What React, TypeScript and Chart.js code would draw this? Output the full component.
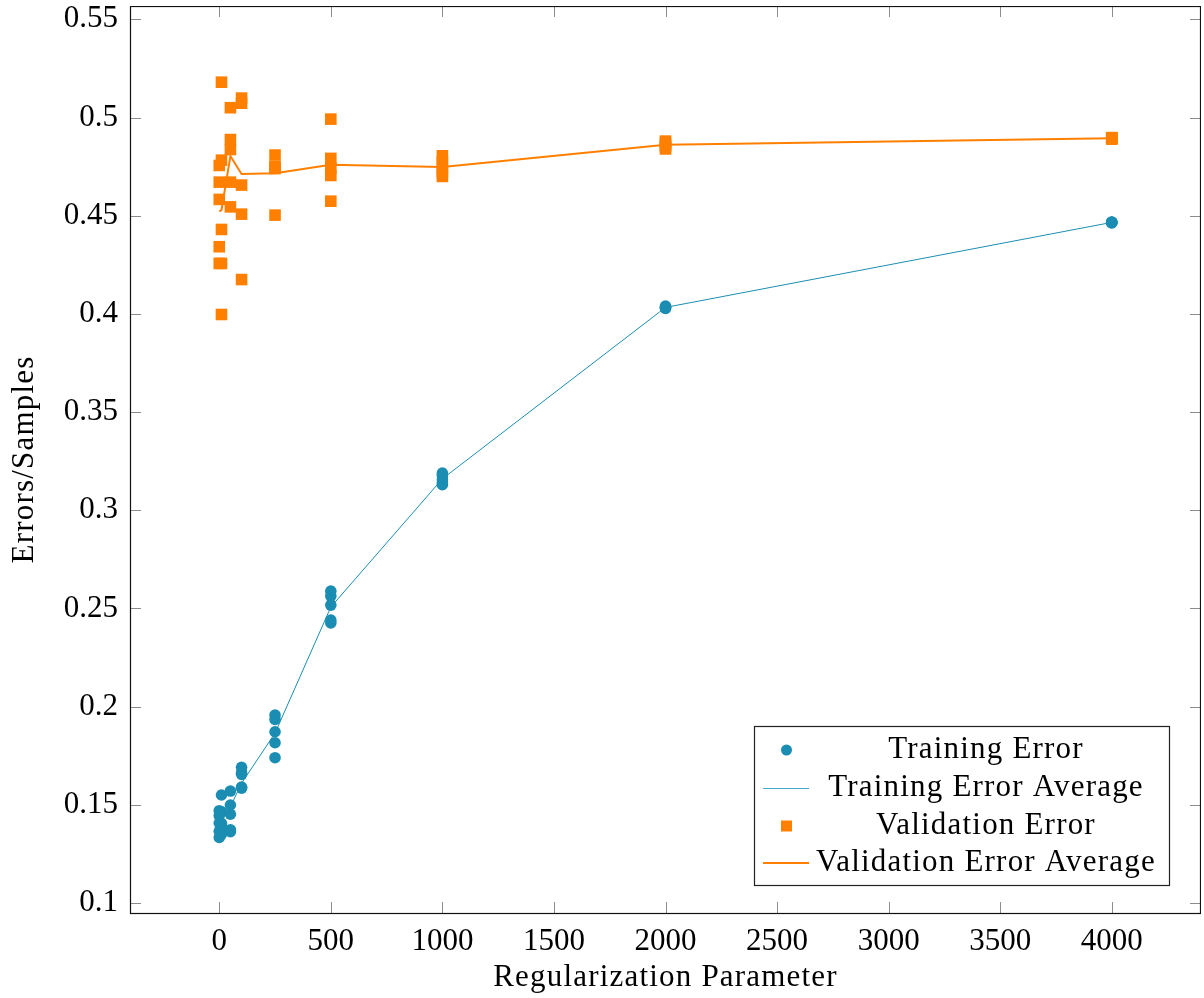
import React, { useEffect, useRef } from 'react';
import { Chart, registerables } from 'chart.js';

Chart.register(...registerables);

// ---- data ----
const lambdas = [0, 10, 50, 100, 250, 500, 1000, 2000, 4000];

const trainingRuns = [
  [0.147, 0.1445, 0.1407, 0.1365, 0.1334],
  [0.155, 0.1465, 0.1405, 0.138, 0.135],
  [0.157, 0.1499, 0.1452, 0.1373, 0.1363],
  [0.1691, 0.1665, 0.1655, 0.159, 0.1585],
  [0.1957, 0.1935, 0.1872, 0.1816, 0.174],
  [0.2588, 0.2563, 0.2517, 0.2441, 0.2426],
  [0.3189, 0.3176, 0.3155, 0.314, 0.313],
  [0.404, 0.4035, 0.4032, 0.403, 0.4028],
  [0.4468, 0.4467, 0.4466, 0.4465, 0.4464],
];

const trainingAverage = [0.1405, 0.144, 0.149, 0.161, 0.1865, 0.2507, 0.316, 0.4033, 0.4466];

const validationRuns = [
  [0.4756, 0.4671, 0.4583, 0.4342, 0.4257],
  [0.518, 0.4783, 0.443, 0.4257, 0.3997],
  [0.505, 0.4888, 0.4837, 0.4671, 0.4545],
  [0.5099, 0.5073, 0.4656, 0.4508, 0.4175],
  [0.4809, 0.475, 0.4745, 0.474, 0.4503],
  [0.4992, 0.4792, 0.4743, 0.4705, 0.4574],
  [0.4805, 0.4775, 0.4745, 0.472, 0.47],
  [0.488, 0.487, 0.486, 0.485, 0.484],
  [0.4898, 0.4896, 0.4894, 0.4892, 0.489],
];

const validationAverage = [0.4522, 0.4529, 0.4804, 0.4712, 0.4716, 0.476, 0.4748, 0.4862, 0.4894];

const xTicks = [0, 500, 1000, 1500, 2000, 2500, 3000, 3500, 4000];
const yTicks = [0.1, 0.15, 0.2, 0.25, 0.3, 0.35, 0.4, 0.45, 0.5, 0.55];

const legendLabels = ['Training Error', 'Training Error Average', 'Validation Error', 'Validation Error Average'];

const xTitle = 'Regularization Parameter';
const yTitle = 'Errors/Samples';

// ---- style ----
const FONT = '"Liberation Serif", "Times New Roman", serif';
const FONT_SIZE = 31;
const TEXT_SPACING = '1.2px';
const TRAIN_COLOR = 'rgb(27,141,178)';
const VAL_COLOR = 'rgb(255,128,0)';
const TICK_LEN = 11;
const CANVAS_TOP = 6;

const framePlugin = {
  id: 'framePlugin',
  afterDatasetsDraw(chart: any) {
    const { ctx, chartArea: a, scales } = chart;
    ctx.save();
    ctx.strokeStyle = 'rgb(140,140,140)';
    ctx.lineWidth = 1;
    ctx.beginPath();
    for (const v of xTicks) {
      const px = Math.round(scales.x.getPixelForValue(v)) + 0.5;
      ctx.moveTo(px, a.bottom);
      ctx.lineTo(px, a.bottom - TICK_LEN);
      ctx.moveTo(px, a.top);
      ctx.lineTo(px, a.top + TICK_LEN);
    }
    for (const v of yTicks) {
      const py = Math.round(scales.y.getPixelForValue(v)) + 0.5;
      ctx.moveTo(a.left, py);
      ctx.lineTo(a.left + TICK_LEN, py);
      ctx.moveTo(a.right, py);
      ctx.lineTo(a.right - TICK_LEN, py);
    }
    ctx.stroke();
    ctx.strokeStyle = '#111';
    ctx.lineWidth = 1.2;
    ctx.strokeRect(a.left + 0.5, a.top + 0.5, a.right - a.left - 1, a.bottom - a.top);
    ctx.restore();
  },
  afterDraw(chart: any) {
    const { ctx, chartArea: a } = chart;
    ctx.save();
    ctx.fillStyle = '#000';
    ctx.font = `${FONT_SIZE}px ${FONT}`;
    (ctx as any).letterSpacing = TEXT_SPACING;
    ctx.textAlign = 'center';
    ctx.textBaseline = 'middle';
    // axis titles
    ctx.fillText(xTitle, (a.left + a.right) / 2, 978 - CANVAS_TOP);
    ctx.save();
    ctx.translate(25, (a.top + a.bottom) / 2);
    ctx.rotate(-Math.PI / 2);
    ctx.fillText(yTitle, 0, 0);
    ctx.restore();

    // legend
    const w = 415;
    const h = 159;
    const right = a.right - 32;
    const bottom = a.bottom - 28;
    const left = right - w;
    const top = bottom - h;
    ctx.fillStyle = '#fff';
    ctx.fillRect(left, top, w, h);
    ctx.strokeStyle = '#222';
    ctx.lineWidth = 1.2;
    ctx.strokeRect(left + 0.5, top + 0.5, w, h);
    const rows = [23, 61, 99, 136].map((d) => top + d);
    const mx = left + 32.5;
    ctx.fillStyle = TRAIN_COLOR;
    ctx.beginPath();
    ctx.arc(mx, rows[0] + 1, 5.5, 0, Math.PI * 2);
    ctx.fill();
    ctx.strokeStyle = 'rgb(70,170,205)';
    ctx.lineWidth = 1;
    ctx.beginPath();
    ctx.moveTo(left + 9, rows[1] + 1.5);
    ctx.lineTo(left + 55, rows[1] + 1.5);
    ctx.stroke();
    ctx.fillStyle = VAL_COLOR;
    ctx.fillRect(mx - 5.5, rows[2] - 4.5, 11, 11);
    ctx.strokeStyle = VAL_COLOR;
    ctx.lineWidth = 2;
    ctx.beginPath();
    ctx.moveTo(left + 9, rows[3] + 1);
    ctx.lineTo(left + 55, rows[3] + 1);
    ctx.stroke();
    ctx.fillStyle = '#000';
    legendLabels.forEach((t, i) => {
      ctx.fillText(t, left + 232, rows[i] + 1);
    });
    ctx.restore();
  },
};

export default function App() {
  const canvasRef = useRef<HTMLCanvasElement | null>(null);

  useEffect(() => {
    document.body.style.margin = '0';
    const canvas = canvasRef.current;
    if (!canvas) return;

    const trainPoints: { x: number; y: number }[] = [];
    const valPoints: { x: number; y: number }[] = [];
    lambdas.forEach((lam, i) => {
      trainingRuns[i].forEach((v) => trainPoints.push({ x: lam, y: v }));
      validationRuns[i].forEach((v) => valPoints.push({ x: lam, y: v }));
    });
    const trainAvg = lambdas.map((lam, i) => ({ x: lam, y: trainingAverage[i] }));
    const valAvg = lambdas.map((lam, i) => ({ x: lam, y: validationAverage[i] }));

    const chart = new Chart(canvas, {
      type: 'scatter',
      data: {
        datasets: [
          {
            label: legendLabels[0],
            data: trainPoints,
            pointStyle: 'circle',
            pointRadius: 5.8,
            pointBorderWidth: 0,
            backgroundColor: TRAIN_COLOR,
            borderColor: TRAIN_COLOR,
            showLine: false,
            order: 4,
          },
          {
            label: legendLabels[1],
            data: trainAvg,
            showLine: true,
            pointRadius: 0,
            borderColor: TRAIN_COLOR,
            borderWidth: 1,
            backgroundColor: TRAIN_COLOR,
            order: 3,
          },
          {
            label: legendLabels[2],
            data: valPoints,
            pointStyle: 'rect',
            pointRadius: 8.2,
            pointBorderWidth: 0,
            backgroundColor: VAL_COLOR,
            borderColor: VAL_COLOR,
            showLine: false,
            order: 2,
          },
          {
            label: legendLabels[3],
            data: valAvg,
            showLine: true,
            pointRadius: 0,
            borderColor: VAL_COLOR,
            borderWidth: 2,
            backgroundColor: VAL_COLOR,
            order: 1,
          },
        ],
      } as any,
      options: {
        animation: false,
        responsive: true,
        maintainAspectRatio: false,
        layout: { padding: 0, autoPadding: false },
        plugins: {
          legend: { display: false },
          tooltip: { enabled: false },
        },
        scales: {
          x: {
            type: 'linear',
            min: -400,
            max: 4400,
            afterBuildTicks: (scale: any) => {
              scale.ticks = xTicks.map((v) => ({ value: v }));
            },
            afterFit: (scale: any) => {
              scale.height = 85;
              scale.paddingLeft = 0;
              scale.paddingRight = 0;
            },
            grid: { display: false, drawTicks: false },
            border: { display: false },
            ticks: {
              color: '#000',
              padding: 10,
              maxRotation: 0,
              autoSkip: false,
              font: { family: FONT, size: FONT_SIZE, lineHeight: 1.2 },
              callback: (v: any) => String(v),
            },
          },
          y: {
            type: 'linear',
            min: 0.0949,
            max: 0.5568,
            afterBuildTicks: (scale: any) => {
              scale.ticks = yTicks.map((v) => ({ value: v }));
            },
            afterFit: (scale: any) => {
              scale.width = 130;
              scale.paddingTop = 0;
              scale.paddingBottom = 0;
            },
            grid: { display: false, drawTicks: false },
            border: { display: false },
            ticks: {
              color: '#000',
              padding: 12,
              autoSkip: false,
              font: { family: FONT, size: FONT_SIZE, lineHeight: 1.2 },
              callback: (v: any) => String(Number(Number(v).toFixed(2))),
            },
          },
        },
      } as any,
      plugins: [framePlugin],
    });

    return () => {
      chart.destroy();
    };
  }, []);

  return (
    <div style={{ position: 'absolute', left: 0, top: 0, width: 1204, height: 998, background: '#fff' }}>
      <div style={{ position: 'absolute', left: 0, top: CANVAS_TOP, width: 1201, height: 998 - CANVAS_TOP }}>
        <canvas ref={canvasRef} />
      </div>
    </div>
  );
}
